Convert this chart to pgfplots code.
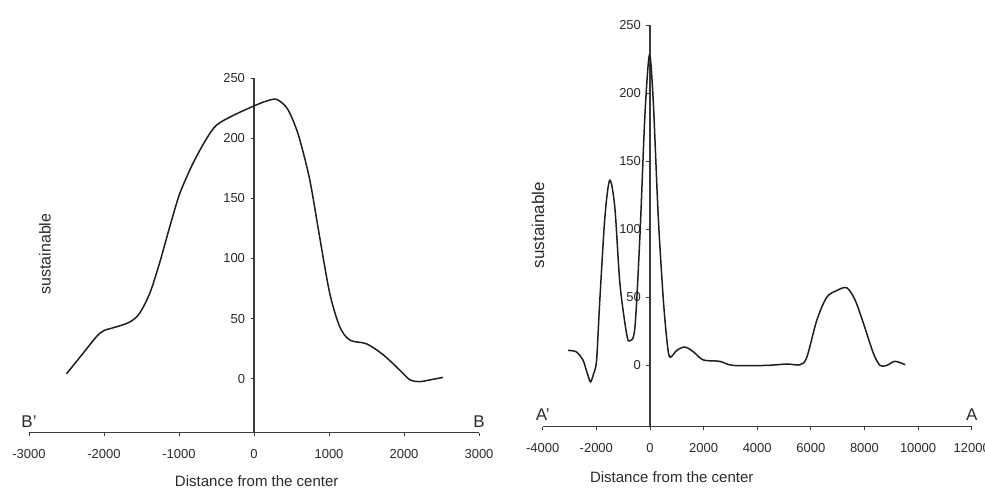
\documentclass[border=0pt]{standalone}
\usepackage{fontspec}
\setmainfont{Liberation Sans}
\usepackage{pgfplots}
\pgfplotsset{compat=1.18}
\definecolor{txt}{HTML}{2A2A2A}
\definecolor{axc}{HTML}{3A3A3A}
\definecolor{crv}{HTML}{1E1E1E}
\pgfplotsset{prof/.style={
  scale only axis,
  axis x line=bottom,
  axis y line=center,
  axis line style={-,axc,line width=1.1bp},
  every inner y axis line/.append style={-},
  every inner x axis line/.append style={-},
  every outer x axis line/.append style={-},
  tick align=outside,
  major tick length=3.5bp,
  tick style={axc,line width=0.9bp},
  ymin=-45, ymax=250,
  ytick={0,50,100,150,200,250},
  scaled x ticks=false, scaled y ticks=false,
  /pgf/number format/assume math mode=true,
  /pgf/number format/1000 sep={},
  ticklabel style={font=\fontsize{13bp}{14bp}\selectfont, text=txt},
  xticklabel style={yshift=-10bp},
  yticklabel style={xshift=-2bp},
  label style={font=\fontsize{15bp}{17bp}\selectfont, text=txt},
  clip=false,
}}
\begin{document}
\begin{tikzpicture}[x=1bp,y=1bp]
\useasboundingbox (0,0) rectangle (985,492);
% left chart
\begin{axis}[prof,
  at={(29bp,59.3bp)}, anchor=south west,
  width=450bp, height=354.4bp,
  xmin=-3000, xmax=3000,
  xtick={-3000,-2000,-1000,0,1000,2000,3000},
  xlabel={Distance from the center},
  xlabel style={at={(axis description cs:0.506,-0.138)}, anchor=center},
  ylabel={sustainable},
  ylabel style={at={(axis description cs:0.0356,0.504)}, anchor=center, rotate=90, font=\fontsize{16bp}{18bp}\selectfont},
]
\addplot[crv, line width=1.5bp, smooth, tension=0.5] coordinates {
(-2500,4) (-2280,21) (-2100,35) (-2000,40) (-1840,43) (-1660,47) (-1530,54)
(-1390,71) (-1260,96) (-1125,126) (-990,154) (-815,179) (-640,199) (-500,211)
(-280,219) (0,227) (165,231) (300,232.5) (430,226) (520,215) (610,199)
(745,165) (875,118) (1010,71) (1145,43) (1280,32) (1500,29) (1720,20)
(1945,7) (2080,-1) (2210,-2.5) (2390,-0.5) (2520,1)
};
\node[font=\fontsize{17bp}{18bp}\selectfont, text=txt, anchor=south] at (axis cs:-3000,-45) [yshift=2bp] {B'};
\node[font=\fontsize{17bp}{18bp}\selectfont, text=txt, anchor=south] at (axis cs:3000,-45) [yshift=2bp] {B};
\end{axis}
% right chart
\begin{axis}[prof,
  at={(542.7bp,65.3bp)}, anchor=south west,
  width=429bp, height=401.7bp,
  xmin=-4000, xmax=12000,
  xtick={-4000,-2000,0,2000,4000,6000,8000,10000,12000},
  xlabel={Distance from the center},
  xlabel style={at={(axis description cs:0.3007,-0.1245)}, anchor=center},
  ylabel={sustainable},
  ylabel style={at={(axis description cs:-0.011,0.502)}, anchor=center, rotate=90, font=\fontsize{17bp}{19bp}\selectfont},
]
\addplot[crv, line width=1.5bp, smooth, tension=0.5] coordinates {
(-3050,11) (-2750,10) (-2500,4) (-2350,-5) (-2220,-12) (-2100,-6) (-1990,4)
(-1870,48) (-1680,109) (-1500,136) (-1310,116) (-1120,60) (-870,23) (-750,18)
(-560,28) (-370,97) (-190,183) (-20,228) (120,195) (310,109) (500,48) (650,15)
(750,6) (1000,11) (1300,13.5) (1620,10) (1990,4) (2600,3) (3100,0) (4350,0)
(5100,1) (5600,0.5) (5850,6) (6220,33) (6590,50) (6970,55) (7340,57) (7650,48)
(7960,31) (8330,9) (8580,0) (8830,0) (9140,3) (9520,0.5)
};
\node[font=\fontsize{17bp}{18bp}\selectfont, text=txt, anchor=south] at (axis cs:-4000,-45) [yshift=3bp] {A'};
\node[font=\fontsize{17bp}{18bp}\selectfont, text=txt, anchor=south] at (axis cs:12000,-45) [yshift=3bp] {A};
\end{axis}
\end{tikzpicture}
\end{document}
